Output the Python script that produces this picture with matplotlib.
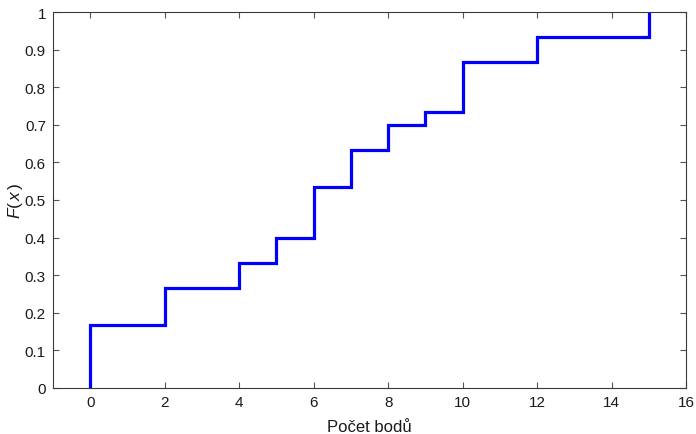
import matplotlib.pyplot as plt
from matplotlib.ticker import FuncFormatter

plt.rcParams['font.family'] = ['Liberation Sans', 'DejaVu Sans']
plt.rcParams['mathtext.fontset'] = 'custom'
plt.rcParams['mathtext.rm'] = 'Liberation Sans'
plt.rcParams['mathtext.it'] = 'Liberation Sans:italic'

# empirical distribution function of the scores
points = [0, 2, 4, 5, 6, 7, 8, 9, 10, 12, 15]
cdf = [0.1667, 0.2667, 0.3333, 0.4, 0.5333, 0.6333, 0.7, 0.7333, 0.8667, 0.9333, 1.0]

xs = [points[0]] + points
ys = [0.0] + cdf

fig = plt.figure(figsize=(6.96, 4.35), dpi=100)
ax = fig.add_axes([0.076, 0.106, 0.910, 0.864])
ax.step(xs, ys, where='post', color='#0000ff', lw=2.3, solid_joinstyle='miter')

ax.set_xlim(-1, 16)
ax.set_ylim(0, 1)
ax.set_xticks(range(0, 17, 2))
ax.set_yticks([i / 10 for i in range(11)])
ax.yaxis.set_major_formatter(FuncFormatter(lambda v, p: '%g' % round(v, 1)))

for s in ax.spines.values():
    s.set_color('#3a3a3a')
    s.set_linewidth(0.8)
ax.tick_params(direction='in', top=True, right=True, length=4, width=0.8,
               color='#555555', labelsize=11, labelcolor='#1a1a1a', pad=5)

ax.set_xlabel('Počet bodů', fontsize=12, color='#1a1a1a', labelpad=7)
ax.set_ylabel(r'$F(\,x\,)$', fontsize=12.5, color='#1a1a1a')
ax.yaxis.set_label_coords(-0.044, 0.5)

fig.savefig('out.png', dpi=100)
